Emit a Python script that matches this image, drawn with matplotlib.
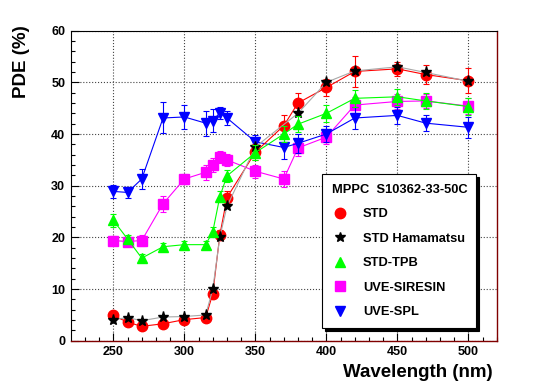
import numpy as np
import matplotlib
matplotlib.use('Agg')
import matplotlib.pyplot as plt
from matplotlib.lines import Line2D

plt.rcParams['font.family'] = ['Liberation Sans', 'DejaVu Sans']
plt.rcParams['font.weight'] = 'bold'

# wavelengths (nm) and PDE (%)
wl_std = [250, 260, 270, 285, 300, 315, 320, 325, 330, 350, 370, 380, 400, 420, 450, 470, 500]
pde_std = [4.9, 3.6, 2.8, 3.3, 4.1, 4.5, 9.1, 20.5, 27.7, 36.5, 41.6, 46.0, 49.0, 52.1, 52.6, 51.5, 50.3]
err_std = [0.6, 0.5, 0.5, 0.5, 0.5, 0.5, 0.8, 1.0, 1.2, 1.5, 2.1, 2.0, 1.6, 3.0, 1.3, 1.8, 2.4]

wl_ham = [250, 260, 270, 285, 300, 315, 320, 325, 330, 350, 380, 400, 420, 450, 470, 500]
pde_ham = [4.1, 4.5, 3.9, 4.6, 4.7, 5.0, 10.0, 20.1, 26.0, 37.5, 44.0, 50.0, 52.2, 53.0, 51.9, 50.2]

wl_tpb = [250, 260, 270, 285, 300, 315, 320, 325, 330, 350, 370, 380, 400, 420, 450, 470, 500]
pde_tpb = [23.3, 19.7, 16.0, 18.2, 18.6, 18.6, 21.1, 27.9, 31.9, 36.4, 40.0, 41.9, 44.0, 46.9, 47.2, 46.4, 45.3]
err_tpb = [1.2, 0.8, 0.8, 0.8, 0.8, 0.8, 0.9, 1.0, 1.2, 1.4, 1.6, 1.6, 1.6, 1.6, 1.6, 1.5, 1.6]

wl_sir = [250, 260, 270, 285, 300, 315, 320, 325, 330, 350, 370, 380, 400, 420, 450, 470, 500]
pde_sir = [19.4, 19.2, 19.4, 26.5, 31.3, 32.6, 34.0, 35.6, 35.0, 32.8, 31.3, 37.3, 39.4, 45.6, 46.3, 46.4, 45.4]
err_sir = [0.8, 0.8, 1.0, 1.6, 1.0, 1.5, 1.3, 1.2, 1.2, 1.3, 1.5, 1.6, 1.4, 1.5, 1.4, 1.4, 1.5]

wl_spl = [250, 260, 270, 285, 300, 315, 320, 325, 330, 350, 370, 380, 400, 420, 450, 470, 500]
pde_spl = [28.9, 28.7, 31.3, 43.1, 43.3, 42.1, 42.6, 44.1, 43.1, 38.5, 37.4, 38.2, 40.0, 43.1, 43.6, 42.1, 41.3]
err_spl = [1.2, 1.0, 1.9, 3.0, 2.3, 2.4, 2.3, 1.2, 1.4, 1.4, 2.2, 1.8, 1.6, 2.2, 1.6, 1.6, 2.0]

fig = plt.figure(figsize=(5.4, 3.88), dpi=100)
ax = fig.add_axes([0.131, 0.1216, 0.789, 0.7995])

ebkw = dict(elinewidth=0.8, capsize=2, capthick=0.8, linewidth=0.8)

ax.errorbar(wl_sir, pde_sir, yerr=err_sir, color='#ff00ff', marker='s', ms=6.5, zorder=3, **ebkw)
ax.errorbar(wl_spl, pde_spl, yerr=err_spl, color='#0000ff', marker='v', ms=7.5, zorder=4, **ebkw)
ax.errorbar(wl_std, pde_std, yerr=err_std, color='#ff0000', marker='o', ms=7.5, zorder=5, **ebkw)
ax.plot(wl_ham, pde_ham, color='#a8a8a8', lw=0.8, zorder=6)
ax.plot(wl_ham, pde_ham, ls='none', color='black', marker='*', ms=8, zorder=6)
ax.errorbar(wl_tpb, pde_tpb, yerr=err_tpb, color='#00ff00', marker='^', ms=7.5, zorder=7, **ebkw)

ax.set_xlim(220, 520)
ax.set_ylim(0, 60)
ax.set_xticks(np.arange(250, 501, 50))
ax.set_xticks(np.arange(230, 521, 10), minor=True)
ax.set_yticks(np.arange(0, 61, 10))
ax.set_yticks(np.arange(0, 61, 2), minor=True)
ax.tick_params(which='both', direction='in', top=False, right=False, labelsize=9, pad=4)
ax.tick_params(which='major', length=6, width=0.8)
ax.tick_params(which='minor', length=3, width=0.8)
ax.grid(True, which='major', ls=':', color='#444444', lw=0.8)
ax.set_axisbelow(True)

for s in ['left', 'top']:
    ax.spines[s].set_color('black')
    ax.spines[s].set_linewidth(0.8)
for s in ['right', 'bottom']:
    ax.spines[s].set_color('#800000')
    ax.spines[s].set_linewidth(1.0)

fig.text(492.7 / 540, 1 - 376.7 / 388, 'Wavelength (nm)', ha='right', va='baseline',
         fontsize=13.5, fontweight='bold')
fig.text(21.7 / 540, 1 - 25 / 388, 'PDE (%)', ha='center', va='top', rotation=90,
         fontsize=13.5, fontweight='bold')

# legend entries: marker only
names = ['STD', 'STD Hamamatsu', 'STD-TPB', 'UVE-SIRESIN', 'UVE-SPL']
styles = [('#ff0000', 'o', 7.5), ('black', '*', 7), ('#00ff00', '^', 7.5),
          ('#ff00ff', 's', 6.5), ('#0000ff', 'v', 7.5)]
handles = [Line2D([], [], ls='none', color=c, marker=m, ms=s) for c, m, s in styles]
leg = ax.legend(handles, names, title='MPPC  S10362-33-50C', loc='upper left',
                bbox_to_anchor=(0.59, 0.538, 0.362, 0.0), mode='expand',
                fontsize=9.3, title_fontproperties={'weight': 'bold', 'size': 9.3},
                alignment='left', frameon=True, fancybox=False, edgecolor='black',
                framealpha=1, shadow={'color': 'black', 'alpha': 1},
                labelspacing=0.97, handlelength=1.2, handletextpad=1.2,
                borderpad=0.75, borderaxespad=0)
leg.get_frame().set_linewidth(0.8)
leg.set_zorder(10)

fig.savefig('out.png', dpi=100)
